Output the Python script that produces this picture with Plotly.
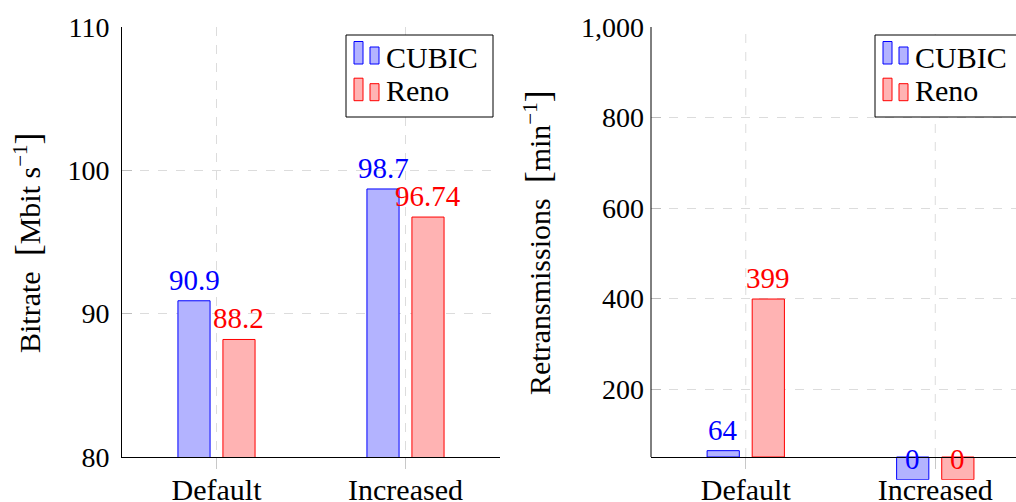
import plotly.graph_objects as go

categories = ["Default", "Increased"]
series_names = ["CUBIC", "Reno"]
bitrate_cubic = [90.9, 98.7]
bitrate_reno = [88.2, 96.74]
bitrate_cubic_lbl = ["90.9", "98.7"]
bitrate_reno_lbl = ["88.2", "96.74"]
retx_cubic = [64, 0]
retx_reno = [399, 0]
bitrate_ticks = [80, 90, 100, 110]
retx_ticks = [200, 400, 600, 800, 1000]
retx_ticktext = ["200", "400", "600", "800", "1,000"]

FONT = "Liberation Serif"
FS_NUM = 28
FS_TXT = 30
BLUE, RED = "rgb(0,0,255)", "rgb(255,0,0)"
BLUE_F, RED_F = "rgb(179,179,255)", "rgb(255,179,179)"
GRID = "rgb(220,220,220)"
W = 0.17
OFF_C, OFF_R = -0.204, 0.034
RETX_BASE = 50
RETX_MIN = 0
RETX_MAX = 1000

WID, H = 1016, 502
xi = list(range(len(categories)))
fig = go.Figure()

def add_bars(xa, ya, cub, ren, base):
    fig.add_trace(go.Bar(x=xi, y=[v - base for v in cub], base=base, width=W, offset=OFF_C,
                         marker=dict(color=BLUE_F, line=dict(color=BLUE, width=1)),
                         name=series_names[0], xaxis=xa, yaxis=ya, showlegend=False))
    fig.add_trace(go.Bar(x=xi, y=[v - base for v in ren], base=base, width=W, offset=OFF_R,
                         marker=dict(color=RED_F, line=dict(color=RED, width=1)),
                         name=series_names[1], xaxis=xa, yaxis=ya, showlegend=False))

add_bars("x", "y", bitrate_cubic, bitrate_reno, 0)
add_bars("x2", "y2", retx_cubic, retx_reno, RETX_BASE)

ann = []
def add_labels(xr, yr, vals, lbls, off, color):
    for i, (v, t) in enumerate(zip(vals, lbls)):
        ann.append(dict(x=i + off + W / 2, y=v, xref=xr, yref=yr, text=t, showarrow=False,
                        yanchor="bottom", xanchor="center", yshift=3,
                        font=dict(family=FONT, size=FS_NUM + 1, color=color)))

add_labels("x", "y", bitrate_cubic, bitrate_cubic_lbl, OFF_C, BLUE)
add_labels("x", "y", bitrate_reno, bitrate_reno_lbl, OFF_R, RED)
add_labels("x2", "y2", retx_cubic, [str(v) for v in retx_cubic], OFF_C, BLUE)
add_labels("x2", "y2", retx_reno, [str(v) for v in retx_reno], OFF_R, RED)

BR = "<span style='font-size:36px'>{}</span>"
ann.append(dict(x=28 / WID, y=1 - 243 / H, xref="paper", yref="paper", textangle=-90,
                text="Bitrate  " + BR.format("[") + "Mbit s<sup>−1</sup>" + BR.format("]"),
                showarrow=False, xanchor="center", yanchor="middle",
                font=dict(family=FONT, size=FS_TXT, color="black")))
ann.append(dict(x=538 / WID, y=1 - 243 / H, xref="paper", yref="paper", textangle=-90,
                text="Retransmissions  " + BR.format("[") + "min<sup>−1</sup>" + BR.format("]"),
                showarrow=False, xanchor="center", yanchor="middle",
                font=dict(family=FONT, size=FS_TXT, color="black")))

shapes = []
# left axis line of right subplot (axis starts at RETX_BASE)
shapes.append(dict(type="line", xref="x2 domain", yref="y2", x0=0, x1=0, y0=RETX_BASE, y1=RETX_MAX,
                   line=dict(color="black", width=1), layer="above"))
for i in xi:
    shapes.append(dict(type="line", xref="x2", yref="y2", x0=i, x1=i, y0=RETX_BASE, y1=RETX_MAX,
                       line=dict(color=GRID, width=1, dash="dash"), layer="below"))

# hand-drawn pgfplots-style legends (box + two-bar symbols + text)
def px(x):
    return x / WID

def py(y):
    return 1 - y / H

def add_legend(left):
    shapes.append(dict(type="rect", xref="paper", yref="paper", x0=px(left), x1=px(left + 147),
                       y0=py(35), y1=py(117), line=dict(color="black", width=1),
                       fillcolor="white", layer="above"))
    rows = [(BLUE_F, BLUE, 64, 57), (RED_F, RED, 100.7, 90)]
    for (fill, edge, bot, tc), name in zip(rows, series_names):
        for dx0, dx1, top in ((8, 17, bot - 22.5), (24, 33, bot - 17)):
            shapes.append(dict(type="rect", xref="paper", yref="paper",
                               x0=px(left + dx0), x1=px(left + dx1), y0=py(bot), y1=py(top),
                               line=dict(color=edge, width=1), fillcolor=fill, layer="above"))
        ann.append(dict(x=px(left + 38), y=py(tc), xref="paper", yref="paper", text=name,
                        showarrow=False, xanchor="left", yanchor="middle",
                        font=dict(family=FONT, size=FS_TXT, color="black")))

add_legend(346)
add_legend(875)

base_ax = dict(showline=True, linecolor="black", linewidth=1, mirror=False, zeroline=False,
               automargin=False, gridcolor=GRID, griddash="dash", gridwidth=1)
xcommon = dict(base_ax, tickvals=xi, ticktext=categories, ticks="outside", ticklen=11,
               tickcolor="rgb(200,200,200)", ticklabelstandoff=-5,
               tickfont=dict(family=FONT, size=FS_TXT, color="black"))
ycommon = dict(base_ax, showgrid=True, ticks="inside", ticklen=10, tickcolor="rgb(190,190,190)",
               ticklabelstandoff=6, tickfont=dict(family=FONT, size=FS_NUM, color="black"))

y_top = 1 - 27 / H
y_axis_px = 457
px_per_unit = (y_axis_px - 27) / (RETX_MAX - RETX_BASE)
y2_bottom_px = y_axis_px + (RETX_BASE - RETX_MIN) * px_per_unit

fig.update_layout(
    width=WID, height=H, margin=dict(l=0, r=0, t=0, b=0, pad=0),
    paper_bgcolor="white", plot_bgcolor="white", barmode="overlay",
    font=dict(family=FONT, size=FS_TXT, color="black"),
    xaxis=dict(xcommon, showgrid=True, domain=[122 / WID, 500 / WID], range=[-0.5, 1.5], anchor="y"),
    yaxis=dict(ycommon, domain=[1 - y_axis_px / H, y_top], range=[80, 110], tickvals=bitrate_ticks, anchor="x"),
    xaxis2=dict(xcommon, showgrid=False, domain=[651 / WID, 1.0], range=[-0.5, 1.5 - 14 / 189],
                anchor="free", position=1 - y_axis_px / H),
    yaxis2=dict(ycommon, showline=False, domain=[1 - y2_bottom_px / H, y_top], range=[RETX_MIN, RETX_MAX],
                tickvals=retx_ticks, ticktext=retx_ticktext, anchor="x2"),
    annotations=ann, shapes=shapes, showlegend=False,
)
fig.write_html("out.html")
